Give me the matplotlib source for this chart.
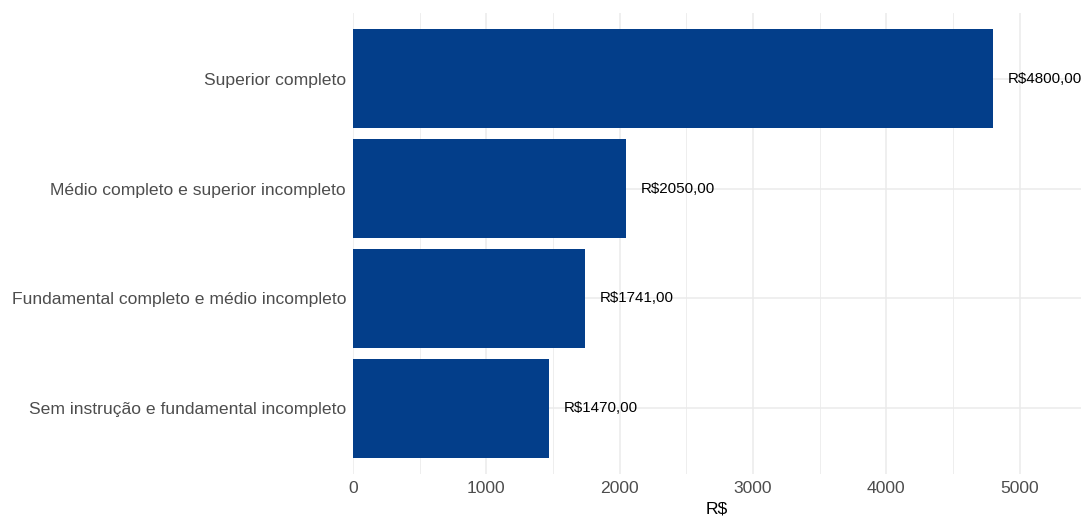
import numpy as np
import matplotlib
matplotlib.use("Agg")
import matplotlib.pyplot as plt
from matplotlib.ticker import MultipleLocator

plt.rcParams['font.family'] = ['Liberation Sans', 'DejaVu Sans']

# data (bottom to top)
categorias = ['Sem instrução e fundamental incompleto',
              'Fundamental completo e médio incompleto',
              'Médio completo e superior incompleto',
              'Superior completo']
salarios = [1470, 1741, 2050, 4800]
rotulos = ['R$%d,00' % v for v in salarios]

cor_barra = '#033E8A'
cor_grade = '#EBEBEB'
cor_texto = '#4D4D4D'

W, H = 1083, 519
fig = plt.figure(figsize=(W / 100, H / 100), dpi=100)
ax = fig.add_axes([353 / W, 1 - 474 / H, (1081 - 353) / W, (474 - 13) / H])

pos = np.arange(1, len(categorias) + 1)
ax.barh(pos, salarios, height=0.9, color=cor_barra, zorder=2)

for p, v, lab in zip(pos, salarios, rotulos):
    ax.text(v + 110, p, lab, ha='left', va='center', fontsize=10.9,
            color='black', parse_math=False, zorder=3)

ax.set_xlim(0, 5460)
ax.set_ylim(0.4, len(categorias) + 0.6)
ax.set_yticks(pos)
ax.set_yticklabels(categorias)
ax.xaxis.set_major_locator(MultipleLocator(1000))
ax.xaxis.set_minor_locator(MultipleLocator(500))

ax.grid(True, which='major', color=cor_grade, lw=1.1, zorder=0)
ax.grid(True, which='minor', axis='x', color=cor_grade, lw=0.6, zorder=0)
ax.set_axisbelow(True)

for s in ax.spines.values():
    s.set_visible(False)
ax.tick_params(axis='both', which='both', length=0, labelsize=12.6,
               labelcolor=cor_texto)
ax.tick_params(axis='x', pad=5)
ax.tick_params(axis='y', pad=5)

ax.set_xlabel('R$', fontsize=12.6, color='black', labelpad=4, parse_math=False)

fig.savefig('out.png', dpi=100)
